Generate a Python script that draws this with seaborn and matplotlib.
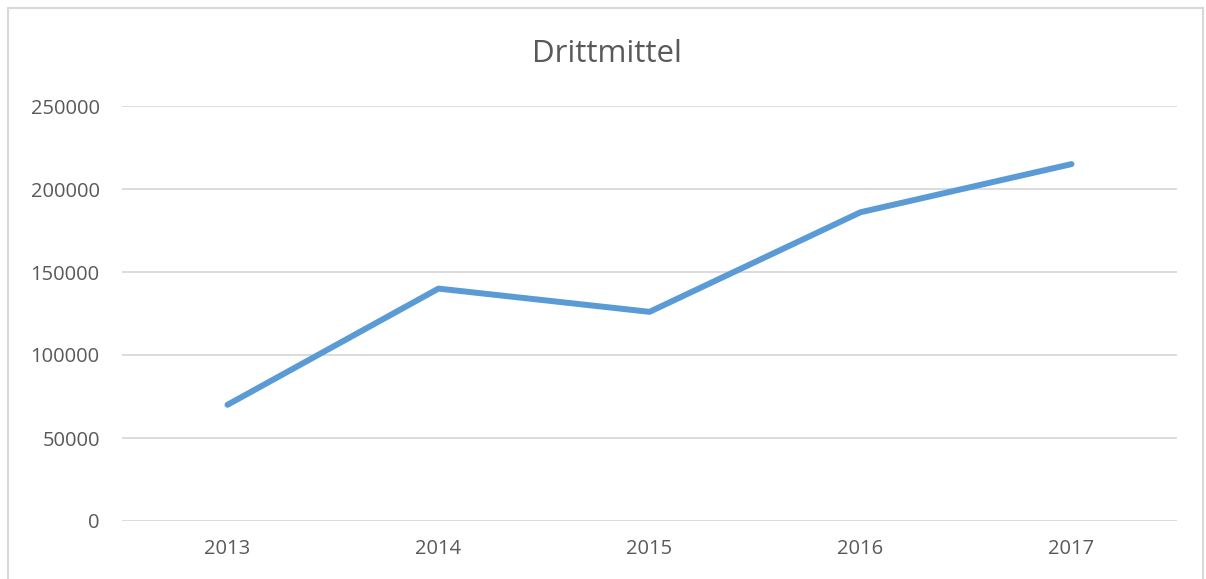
import matplotlib
matplotlib.use("Agg")
import matplotlib.pyplot as plt
import pandas as pd
import seaborn as sns
from matplotlib.patches import Rectangle

years = ["2013", "2014", "2015", "2016", "2017"]
drittmittel = [70000, 140000, 126000, 186000, 215000]
y_ticks = [0, 50000, 100000, 150000, 200000, 250000]

df = pd.DataFrame({"Jahr": years, "Drittmittel": drittmittel})

sns.set_style("white")
plt.rcParams["font.family"] = ["Open Sans", "DejaVu Sans"]

fig = plt.figure(figsize=(12.06, 5.79), dpi=100)
ax = fig.add_axes([122 / 1206, 1 - 521 / 579, (1177 - 122) / 1206, (521 - 106) / 579])

sns.lineplot(data=df, x="Jahr", y="Drittmittel", ax=ax, color="#5B9BD5",
             linewidth=4.3, sort=False, solid_capstyle="round")

ax.set_xlim(-0.5, len(years) - 0.5)
ax.set_ylim(0, 250000)
ax.set_yticks(y_ticks)
ax.set_yticklabels([str(v) for v in y_ticks])
ax.yaxis.grid(True, color="#D9D9D9", linewidth=1.3)
ax.set_axisbelow(True)
ax.tick_params(axis="both", length=0, colors="#595959", labelsize=14.5)
ax.tick_params(axis="y", pad=16)
ax.tick_params(axis="x", pad=13)
ax.set_xlabel("")
ax.set_ylabel("")
for s in ax.spines.values():
    s.set_visible(False)

fig.text(607 / 1206, 1 - 62 / 579, "Drittmittel", ha="center", va="baseline",
         fontsize=22.5, color="#595959")

fig.patches.append(Rectangle((8 / 1206, -0.05), (1203 - 8) / 1206, 1.05 - 8 / 579,
                             transform=fig.transFigure, fill=False,
                             edgecolor="#D9D9D9", linewidth=1.5))

fig.savefig("out.png", dpi=100)
